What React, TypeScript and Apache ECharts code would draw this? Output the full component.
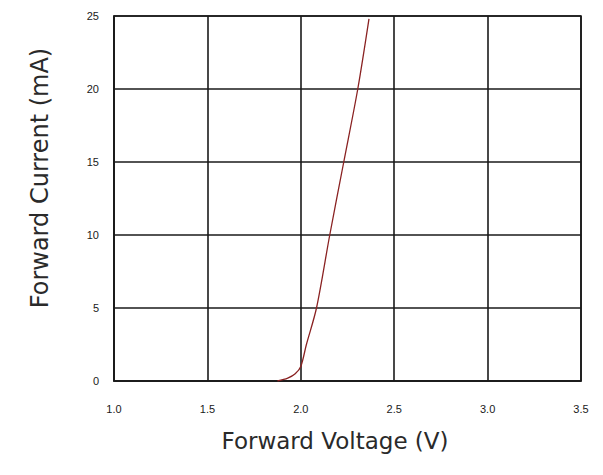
import React, { useEffect, useRef } from "react";
import * as echarts from "echarts";

const voltage = [1.875, 1.93, 1.97, 2.0, 2.03, 2.084, 2.155, 2.23, 2.305, 2.365];
const current = [0, 0.2, 0.5, 1.0, 2.5, 5, 10, 15, 20, 24.8];
const xTicks = [1.0, 1.5, 2.0, 2.5, 3.0, 3.5];
const yTicks = [0, 5, 10, 15, 20, 25];
const xTitle = "Forward Voltage (V)";
const yTitle = "Forward Current (mA)";

export default function App() {
  const ref = useRef<HTMLDivElement>(null);
  useEffect(() => {
    const chart = echarts.init(ref.current!, undefined, { renderer: "svg" });
    const gridLine = { show: true, lineStyle: { color: "#1a1a1a", width: 1.6 } };
    chart.setOption({
      animation: false,
      backgroundColor: "#ffffff",
      grid: { left: 114, top: 16, right: 22, bottom: 94, show: true, borderColor: "#1a1a1a", borderWidth: 1.6 },
      graphic: [
        {
          type: "text",
          x: 335,
          y: 441,
          style: { text: xTitle, font: "23px 'DejaVu Sans'", fill: "#2a2a2a", align: "center", verticalAlign: "middle" },
        },
        {
          type: "text",
          x: 40,
          y: 178,
          rotation: Math.PI / 2,
          style: { text: yTitle, font: "24px 'DejaVu Sans'", fill: "#2a2a2a", align: "center", verticalAlign: "middle" },
        },
      ],
      xAxis: {
        type: "value",
        min: 1.0,
        max: 3.5,
        interval: 0.5,
        axisLine: { show: true, lineStyle: { color: "#1a1a1a", width: 1.6 } },
        axisTick: { show: false },
        splitLine: gridLine,
        axisLabel: {
          margin: 22,
          fontFamily: "Liberation Sans",
          fontSize: 11,
          color: "#1a1a1a",
          formatter: (v: number) => (xTicks.includes(v) ? v.toFixed(1) : ""),
        },
      },
      yAxis: {
        type: "value",
        min: 0,
        max: 25,
        interval: 5,
        axisLine: { show: true, lineStyle: { color: "#1a1a1a", width: 1.6 } },
        axisTick: { show: false },
        splitLine: gridLine,
        axisLabel: {
          margin: 15,
          fontFamily: "Liberation Sans",
          fontSize: 11,
          color: "#1a1a1a",
          formatter: (v: number) => (yTicks.includes(v) ? String(v) : ""),
        },
      },
      series: [
        {
          type: "line",
          data: voltage.map((v, i) => [v, current[i]]),
          smooth: 0.3,
          showSymbol: false,
          lineStyle: { color: "#8a2222", width: 1.3 },
          z: 5,
        },
      ],
    });
    return () => chart.dispose();
  }, []);
  return <div ref={ref} style={{ position: "fixed", left: 0, top: 0, width: 603, height: 475 }} />;
}
